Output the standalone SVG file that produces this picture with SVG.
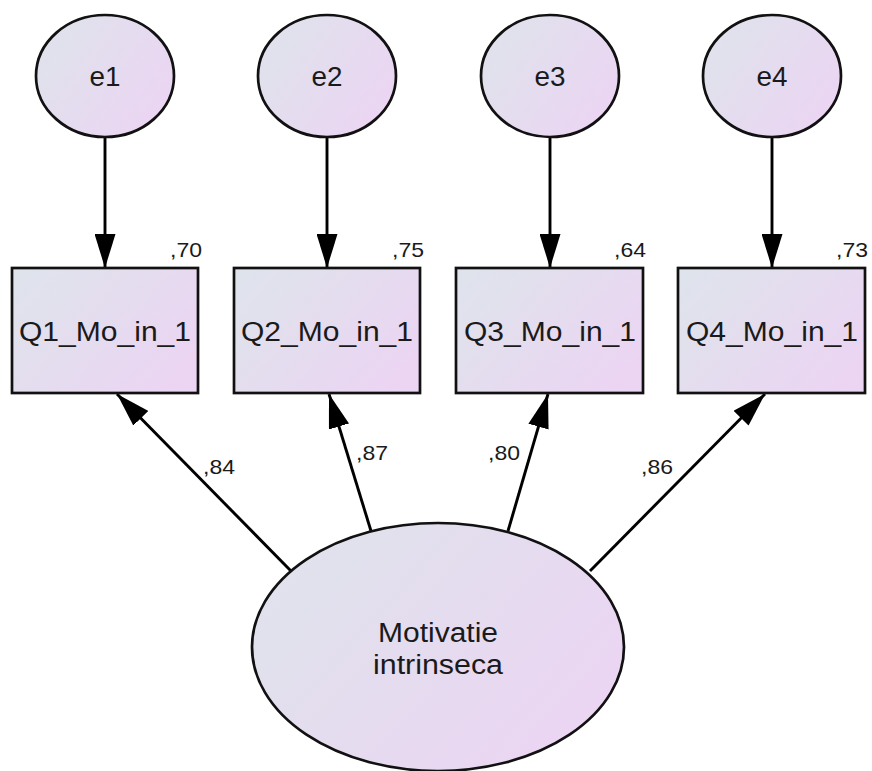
<svg xmlns="http://www.w3.org/2000/svg" width="872" height="771" viewBox="0 0 872 771">
  <defs>
    <linearGradient id="fillGrad" x1="0" y1="0.2" x2="1" y2="0.8">
      <stop offset="0" stop-color="#dfe3ec"/>
      <stop offset="1" stop-color="#ecd4f3"/>
    </linearGradient>
    <marker id="arrow" viewBox="0 0 34 21" refX="34" refY="10.5" markerWidth="34" markerHeight="21" markerUnits="userSpaceOnUse" orient="auto">
      <path d="M0,0 L34,10.5 L0,21 Z" fill="#000"/>
    </marker>
  </defs>
  <style>
    .shape { fill: url(#fillGrad); stroke: #111; stroke-width: 2.7; }
    .conn { stroke: #000; stroke-width: 2.9; fill: none; marker-end: url(#arrow); }
    .lbl { font-family: "Liberation Sans", Arial, sans-serif; fill: #1a1a1a; }
    .node { font-size: 27px; text-anchor: middle; }
    .coef { font-size: 21px; }
  </style>
  <rect width="872" height="771" fill="#fff"/>

  <!-- paths: errors to indicators, factor to indicators -->
  <g id="connectors">
    <line class="conn" x1="105" y1="137" x2="105" y2="268"/>
    <line class="conn" x1="327" y1="137" x2="327" y2="268"/>
    <line class="conn" x1="550" y1="137" x2="550" y2="268"/>
    <line class="conn" x1="772" y1="137" x2="772" y2="268"/>
    <line class="conn" x1="291" y1="571" x2="117" y2="394"/>
    <line class="conn" x1="371" y1="531" x2="329" y2="394"/>
    <line class="conn" x1="508" y1="531" x2="548" y2="394"/>
    <line class="conn" x1="590" y1="571" x2="765" y2="394"/>
    <text class="lbl coef" x="203" y="474" textLength="32" lengthAdjust="spacingAndGlyphs">,84</text>
    <text class="lbl coef" x="356" y="460" textLength="32" lengthAdjust="spacingAndGlyphs">,87</text>
    <text class="lbl coef" x="488" y="460" textLength="32" lengthAdjust="spacingAndGlyphs">,80</text>
    <text class="lbl coef" x="641" y="474" textLength="32" lengthAdjust="spacingAndGlyphs">,86</text>
  </g>

  <g id="e1">
    <ellipse class="shape" cx="105" cy="76" rx="69" ry="61"/>
    <text class="lbl node" x="105" y="86" textLength="31" lengthAdjust="spacingAndGlyphs">e1</text>
  </g>
  <g id="e2">
    <ellipse class="shape" cx="327" cy="76" rx="69" ry="61"/>
    <text class="lbl node" x="327" y="86" textLength="31" lengthAdjust="spacingAndGlyphs">e2</text>
  </g>
  <g id="e3">
    <ellipse class="shape" cx="550" cy="76" rx="69" ry="61"/>
    <text class="lbl node" x="550" y="86" textLength="31" lengthAdjust="spacingAndGlyphs">e3</text>
  </g>
  <g id="e4">
    <ellipse class="shape" cx="772" cy="76" rx="69" ry="61"/>
    <text class="lbl node" x="772" y="86" textLength="31" lengthAdjust="spacingAndGlyphs">e4</text>
  </g>

  <g id="Q1_Mo_in_1">
    <rect class="shape" x="12" y="268" width="186" height="125"/>
    <text class="lbl node" x="105" y="341" textLength="172" lengthAdjust="spacingAndGlyphs">Q1_Mo_in_1</text>
    <text class="lbl coef" x="170" y="257" textLength="32" lengthAdjust="spacingAndGlyphs">,70</text>
  </g>
  <g id="Q2_Mo_in_1">
    <rect class="shape" x="234" y="268" width="186" height="125"/>
    <text class="lbl node" x="327" y="341" textLength="172" lengthAdjust="spacingAndGlyphs">Q2_Mo_in_1</text>
    <text class="lbl coef" x="392" y="257" textLength="32" lengthAdjust="spacingAndGlyphs">,75</text>
  </g>
  <g id="Q3_Mo_in_1">
    <rect class="shape" x="456" y="268" width="187" height="125"/>
    <text class="lbl node" x="550" y="341" textLength="172" lengthAdjust="spacingAndGlyphs">Q3_Mo_in_1</text>
    <text class="lbl coef" x="614" y="257" textLength="32" lengthAdjust="spacingAndGlyphs">,64</text>
  </g>
  <g id="Q4_Mo_in_1">
    <rect class="shape" x="678" y="268" width="187" height="125"/>
    <text class="lbl node" x="772" y="341" textLength="172" lengthAdjust="spacingAndGlyphs">Q4_Mo_in_1</text>
    <text class="lbl coef" x="836" y="257" textLength="32" lengthAdjust="spacingAndGlyphs">,73</text>
  </g>

  <g id="Motivatie_intrinseca">
    <ellipse class="shape" cx="438" cy="647" rx="186" ry="124"/>
    <text class="lbl node" x="438" y="642" textLength="120" lengthAdjust="spacingAndGlyphs">Motivatie</text>
    <text class="lbl node" x="438" y="674" textLength="130" lengthAdjust="spacingAndGlyphs">intrinseca</text>
  </g>
</svg>
